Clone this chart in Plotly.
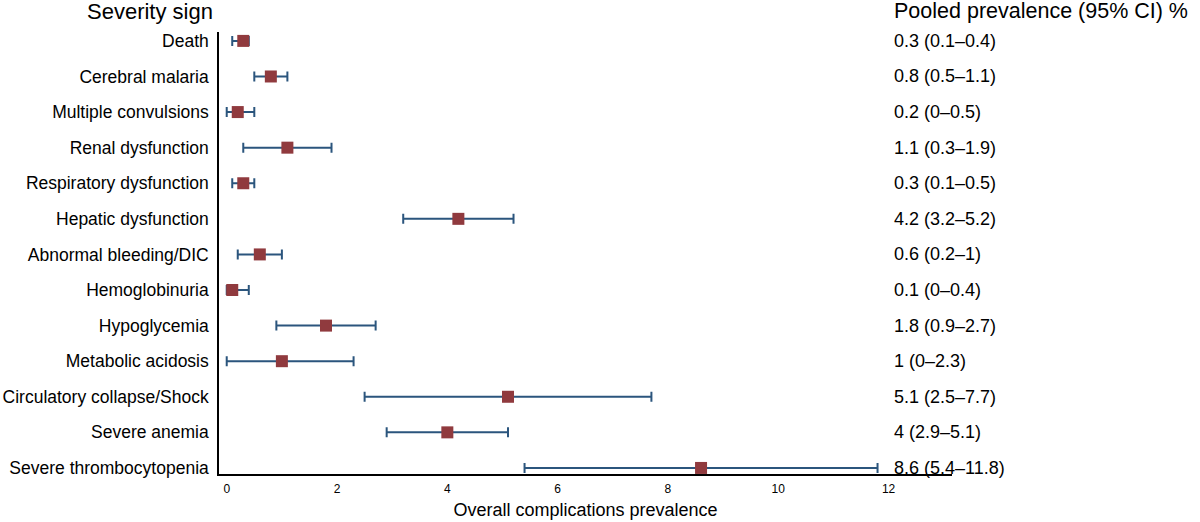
import plotly.graph_objects as go

signs = ["Death", "Cerebral malaria", "Multiple convulsions", "Renal dysfunction",
         "Respiratory dysfunction", "Hepatic dysfunction", "Abnormal bleeding/DIC",
         "Hemoglobinuria", "Hypoglycemia", "Metabolic acidosis",
         "Circulatory collapse/Shock", "Severe anemia", "Severe thrombocytopenia"]
prevalence = [0.3, 0.8, 0.2, 1.1, 0.3, 4.2, 0.6, 0.1, 1.8, 1.0, 5.1, 4.0, 8.6]
ci_low = [0.1, 0.5, 0.0, 0.3, 0.1, 3.2, 0.2, 0.0, 0.9, 0.0, 2.5, 2.9, 5.4]
ci_high = [0.4, 1.1, 0.5, 1.9, 0.5, 5.2, 1.0, 0.4, 2.7, 2.3, 7.7, 5.1, 11.8]
ci_text = ["0.3 (0.1–0.4)", "0.8 (0.5–1.1)", "0.2 (0–0.5)", "1.1 (0.3–1.9)",
           "0.3 (0.1–0.5)", "4.2 (3.2–5.2)", "0.6 (0.2–1)", "0.1 (0–0.4)",
           "1.8 (0.9–2.7)", "1 (0–2.3)", "5.1 (2.5–7.7)", "4 (2.9–5.1)",
           "8.6 (5.4–11.8)"]
x_ticks = [0, 2, 4, 6, 8, 10, 12]

n = len(signs)
ypos = [n - 1 - i for i in range(n)]
FONT = "Liberation Sans, Arial, Helvetica, sans-serif"

fig = go.Figure()
fig.add_trace(go.Scatter(
    x=prevalence, y=ypos, mode="markers",
    marker=dict(symbol="square", size=12, color="#903a3e", line=dict(width=0)),
    error_x=dict(type="data", symmetric=False,
                 array=[h - p for h, p in zip(ci_high, prevalence)],
                 arrayminus=[p - l for p, l in zip(prevalence, ci_low)],
                 color="#2b557d", thickness=2, width=5),
    showlegend=False, hoverinfo="skip", cliponaxis=False,
))

for y, t in zip(ypos, ci_text):
    fig.add_annotation(x=12.07, y=y, xref="x", yref="y", text=t, showarrow=False,
                       xanchor="left", yanchor="middle",
                       font=dict(size=18, color="black", family=FONT))

fig.add_annotation(x=-4 / 733, y=1 + 20 / 442, xref="paper", yref="paper",
                   text="Severity sign", showarrow=False, xanchor="right", yanchor="middle",
                   font=dict(size=22, color="black", family=FONT))
fig.add_annotation(x=(892 - 219) / 733, y=1 + 21 / 442, xref="paper", yref="paper",
                   text="Pooled prevalence (95% CI) %", showarrow=False, xanchor="left",
                   yanchor="middle", font=dict(size=21.5, color="black", family=FONT))

fig.update_layout(
    width=1200, height=522,
    margin=dict(l=219, r=248, t=32, b=48, autoexpand=False),
    paper_bgcolor="white", plot_bgcolor="white",
    font=dict(family=FONT, color="black"),
    xaxis=dict(range=[-0.14, 13.15], tickvals=x_ticks, ticktext=[str(v) for v in x_ticks],
               showgrid=False, zeroline=False, showline=True, linecolor="black",
               linewidth=1.5, ticks="", ticklabelstandoff=3,
               tickfont=dict(size=12, color="black"),
               title=dict(text="Overall complications prevalence",
                          font=dict(size=18, color="black"), standoff=8)),
    yaxis=dict(range=[-0.17, 12.25], tickvals=ypos, ticktext=signs, showgrid=False,
               zeroline=False, showline=True, linecolor="black", linewidth=1.5,
               ticks="", ticklabelstandoff=5, tickfont=dict(size=17.5, color="black")),
)

fig.write_html("out.html", config={"displayModeBar": False},
               post_script="document.body.style.margin='0px';")
